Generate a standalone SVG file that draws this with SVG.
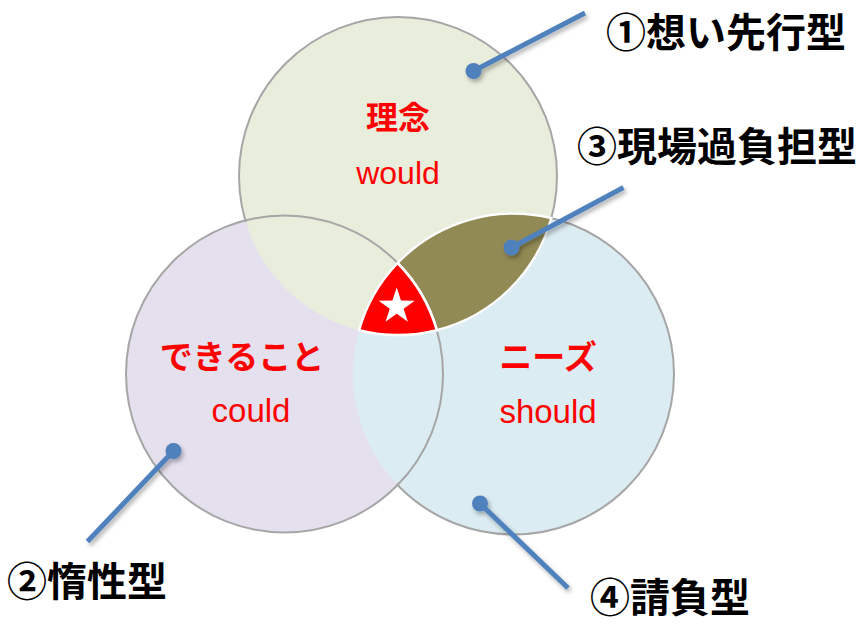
<svg xmlns="http://www.w3.org/2000/svg" width="864" height="624" viewBox="0 0 864 624">
  <style>
    .ring { fill: none; stroke: #A6A6A6; stroke-width: 2; }
    .core { font-family: "Noto Sans CJK JP", "Noto Sans", sans-serif; font-weight: bold; fill: #FF0000; text-anchor: middle; }
    .en { font-family: "Liberation Sans", Arial, sans-serif; fill: #FF0000; text-anchor: middle; }
    .callout { font-family: "Noto Sans CJK JP", "Noto Sans", sans-serif; font-weight: bold; fill: #000000; font-size: 40px; }
    .leader { stroke: #4F81BD; stroke-width: 5; fill: none; }
    .dot { fill: #4F81BD; }
    .area { stroke: #FFFFFF; stroke-width: 2.5; stroke-linejoin: round; }
  </style>
  <defs>
    <clipPath id="outsideLeft">
      <path clip-rule="evenodd" d="M0 0H864V624H0Z M127.5 374 a157 157 0 1 0 314 0 a157 157 0 1 0 -314 0 Z"/>
    </clipPath>
    <filter id="shadow" x="-20%" y="-20%" width="140%" height="140%">
      <feDropShadow dx="2" dy="3" stdDeviation="2" flood-color="#000000" flood-opacity="0.3"/>
    </filter>
  </defs>

  <g id="circle-fills">
    <circle id="fill-could" cx="284.5" cy="374" r="158.5" fill="#E5E0EE"/>
    <circle id="fill-would" cx="398" cy="176" r="159" fill="#E9EDDC"/>
    <circle id="fill-should" cx="513.5" cy="374" r="160.5" fill="#DBECF2"/>
  </g>
  <g id="circle-strokes">
    <circle class="ring" cx="398" cy="176" r="159" clip-path="url(#outsideLeft)"/>
    <circle class="ring" cx="513.5" cy="374" r="160.5" clip-path="url(#outsideLeft)"/>
    <circle class="ring" cx="284.5" cy="374" r="158.5"/>
  </g>

  <g id="region-3">
    <path class="area" fill="#928A54" d="M397.6 263 A160.5 160.5 0 0 1 551.35 218.01 A159 159 0 0 1 436.83 330.18 A158.5 158.5 0 0 0 397.6 263 Z"/>
  </g>
  <g id="region-core">
    <path class="area" fill="#FF0000" d="M397.6 263 A160.5 160.5 0 0 0 359.09 330.17 A159 159 0 0 0 436.83 330.18 A158.5 158.5 0 0 0 397.6 263 Z"/>
    <polygon fill="#FFFFFF" points="396.7,287.5 400.99,300.59 414.77,300.63 403.64,308.76 407.87,321.87 396.7,313.8 385.53,321.87 389.76,308.76 378.63,300.63 392.41,300.59"/>
  </g>

  <g id="node-would">
    <text class="core" x="398" y="129" font-size="32">理念</text>
    <text class="en" x="398" y="184" font-size="32">would</text>
  </g>
  <g id="node-could">
    <text class="core" x="242" y="369" font-size="33">できること</text>
    <text class="en" x="251" y="422" font-size="33">could</text>
  </g>
  <g id="node-should">
    <text class="core" x="548" y="369" font-size="33">ニーズ</text>
    <text class="en" x="548" y="423" font-size="33">should</text>
  </g>

  <g id="connectors" filter="url(#shadow)">
    <line class="leader" x1="473.5" y1="71" x2="585" y2="13"/>
    <circle class="dot" cx="473.5" cy="71" r="8"/>
    <line class="leader" x1="173.5" y1="451" x2="87.5" y2="541.5"/>
    <circle class="dot" cx="173.5" cy="451" r="8"/>
    <line class="leader" x1="511.5" y1="247.5" x2="623.5" y2="187.5"/>
    <circle class="dot" cx="511.5" cy="247.5" r="8"/>
    <line class="leader" x1="480" y1="503.5" x2="568" y2="588"/>
    <circle class="dot" cx="480" cy="503.5" r="8"/>
  </g>

  <g id="label-1"><text class="callout" x="606" y="47">①想い先行型</text></g>
  <g id="label-3"><text class="callout" x="577" y="161">③現場過負担型</text></g>
  <g id="label-2"><text class="callout" x="7" y="596">②惰性型</text></g>
  <g id="label-4"><text class="callout" x="590" y="612">④請負型</text></g>
</svg>
